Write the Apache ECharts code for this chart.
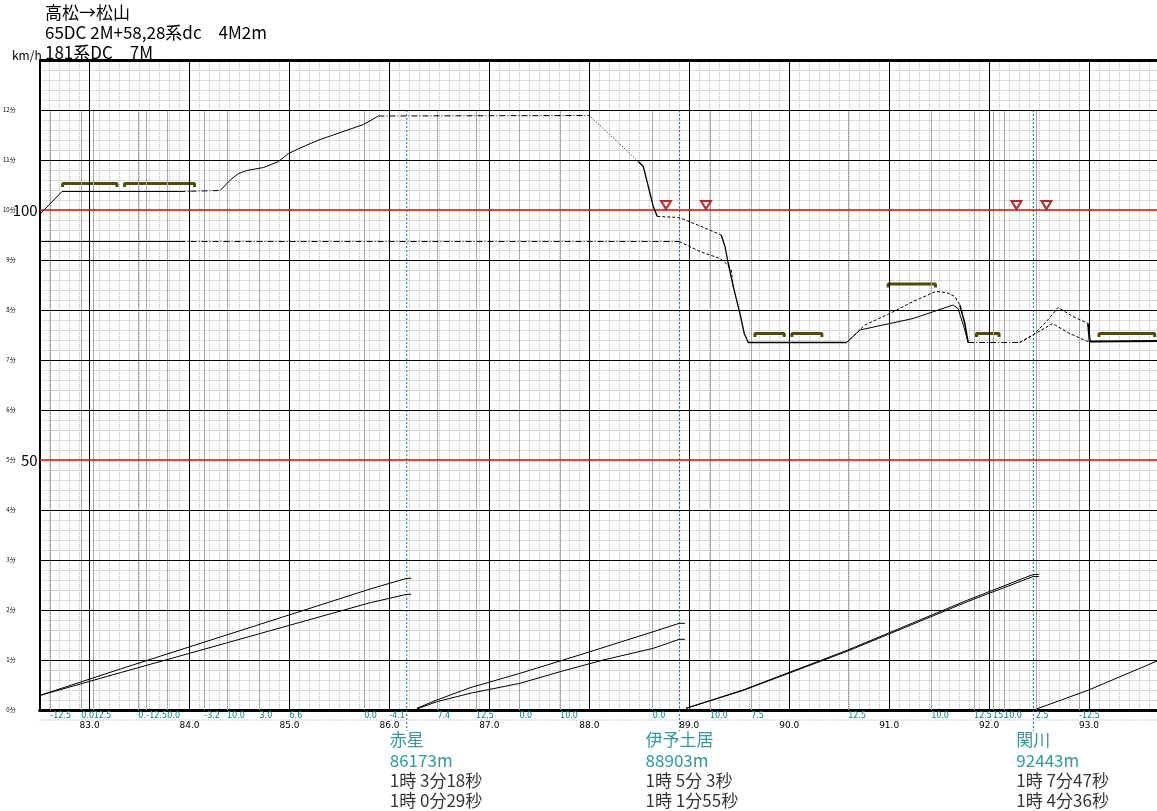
<!DOCTYPE html>
<html><head><meta charset="utf-8">
<script src="https://cdn.jsdelivr.net/npm/echarts@6/dist/echarts.min.js"></script>
<style>html,body{margin:0;padding:0;background:#fff}#c{width:1157px;height:811px}</style>
</head><body><div id="c"></div>
<script>
// ---------- data ----------
const kmTicks = [83, 84, 85, 86, 87, 88, 89, 90, 91, 92, 93];
const speedTicks = [10, 20, 30, 40, 50, 60, 70, 80, 90, 100, 110, 120];
const gradKm = [82.607, 82.917, 83.04, 83.487, 83.567, 83.777, 84.147, 84.374, 84.70, 85.00, 85.747, 86.00, 86.48, 86.867, 87.30, 87.707, 88.634, 89.207, 89.62, 90.59, 91.42, 91.85, 92.04, 92.15, 92.467, 92.90];
const gradText = ["-12.5", "0.0", "12.5", "0.", "-12.5", "0.0", "-3.2", "10.0", "3.0", "6.6", "0.0", "-4.1", "7.4", "12.5", "0.0", "10.0", "0.0", "10.0", "7.5", "12.5", "10.0", "12.5", "15.", "10.0", "2.5", "-12.5"];

const stationNames = ["赤星", "伊予土居", "関川"];
const stationKm = [86.173, 88.903, 92.443];
const stationDist = ["86173m", "88903m", "92443m"];
const stationTimeA = ["1時 3分18秒", "1時 5分 3秒", "1時 7分47秒"];
const stationTimeB = ["1時 0分29秒", "1時 1分55秒", "1時 4分36秒"];

// speed curve of train A (km, km/h)
const speedA_start = [[82.51, 99.3], [82.724, 103.7], [83.9, 103.7]];
const speedA_coast1 = [[83.9, 103.7], [84.307, 103.9]];
const speedA_accel = [[84.307, 103.9], [84.407, 106], [84.49, 107.3], [84.574, 107.9], [84.74, 108.5], [84.89, 109.7], [84.99, 111.3], [85.074, 112.1], [85.174, 113], [85.307, 114.1], [85.74, 117.1], [85.89, 118.8]];
const speedA_cruise = [[85.89, 118.8], [88.0, 118.9]];
const speedA_brake1 = [[88.0, 118.9], [88.49, 109.7]];
const speedA_brake2 = [[88.49, 109.7], [88.54, 108.7], [88.59, 104.7], [88.64, 100.7], [88.68, 98.7]];
const speedA_mid = [[88.68, 98.7], [88.9, 98.5], [89.107, 96.8], [89.32, 95]];
const speedA_brake3 = [[89.32, 95], [89.357, 92.7], [89.39, 89.3], [89.44, 84.7], [89.507, 79.3], [89.55, 75.3], [89.59, 73.5], [90.574, 73.5]];
const speedA_hill = [[90.574, 73.5], [90.757, 77], [91.007, 79.3], [91.24, 81.7], [91.467, 83.7], [91.574, 83.5], [91.657, 82.7], [91.707, 81]];
const speedA_brake4 = [[91.707, 81], [91.757, 77.3], [91.79, 73.5]];
const speedA_flat = [[91.79, 73.5], [92.307, 73.5]];
const speedA_hill2 = [[92.307, 73.5], [92.44, 75], [92.574, 77.7], [92.69, 80.5], [92.84, 78.7], [92.99, 77.3]];
const speedA_end = [[92.99, 77.3], [93.007, 73.7], [93.68, 73.8]];

// speed curve of train B
const speedB_start = [[82.5, 93.7], [83.9, 93.7]];
const speedB_cruise = [[83.9, 93.7], [88.9, 93.7]];
const speedB_brake = [[88.9, 93.7], [89.107, 91.7], [89.307, 90.3], [89.37, 89.3], [89.42, 88], [89.44, 84.7]];
const speedB_hill = [[90.574, 73.5], [90.707, 76], [91.007, 77.3], [91.24, 78.3], [91.64, 81], [91.69, 80.3], [91.714, 78.7], [91.757, 76], [91.79, 73.5]];
const speedB_hill2 = [[92.307, 73.5], [92.457, 75.2], [92.634, 77.3], [92.807, 75.3], [92.974, 73.8], [93.007, 73.7]];

// speed limits
const limitStart = [82.73, 83.35, 89.657, 90.027, 90.99, 91.874, 93.10];
const limitEnd = [83.274, 84.05, 89.95, 90.327, 91.464, 92.10, 93.657];
const limitSpeed = [105.3, 105.3, 75.3, 75.3, 85.2, 75.3, 75.3];

// signals
const signalKm = [88.767, 89.167, 92.274, 92.574];
const signalSpeed = [101, 101, 101, 101];

// running time curves (km, minutes)
const timeA1 = [[82.5, 0.29], [83.307, 0.82], [85.807, 2.42], [86.174, 2.634], [86.217, 2.634]];
const timeB1 = [[82.5, 0.29], [83.307, 0.746], [85.807, 2.146], [86.174, 2.314], [86.217, 2.314]];
const timeA2 = [[86.274, 0.034], [86.474, 0.2], [86.807, 0.446], [87.307, 0.734], [87.707, 0.98], [88.007, 1.166], [88.64, 1.566], [88.9, 1.734], [88.957, 1.734]];
const timeB2 = [[86.274, 0.02], [86.474, 0.166], [86.807, 0.334], [87.307, 0.534], [87.707, 0.766], [88.14, 1.0], [88.64, 1.234], [88.9, 1.414], [88.957, 1.414]];
const timeA3 = [[88.967, 0.034], [89.537, 0.4], [90.587, 1.2], [91.787, 2.2], [92.44, 2.71], [92.497, 2.71]];
const timeB3 = [[88.967, 0.034], [89.537, 0.39], [90.587, 1.18], [91.787, 2.17], [92.44, 2.67], [92.497, 2.67]];
const timeA4 = [[92.474, 0.02], [92.997, 0.4], [93.68, 0.98]];

// ---------- chart ----------
const X_MIN = 82.5, X_MAX = 93.68;
const SOLID = 'solid', DASHDOT = [6, 2, 1, 2], DOT = [1, 2], DASH = [3, 2];
const FONT = '"Noto Sans CJK JP", "Noto Sans", sans-serif';

function lineSer(data, type, width, color, extra) {
  return Object.assign({
    type: 'line', data: data, symbol: 'none', silent: true, animation: false,
    lineStyle: { color: color || '#000', width: width || 1, type: type }, z: 5
  }, extra || {});
}

const series = [];
// grid decoration lines
series.push({
  type: 'line', data: [], silent: true, animation: false, z: 2,
  markLine: {
    symbol: 'none', silent: true, animation: false,
    data: gradKm.map(k => [{ coord: [k, 120], lineStyle: { color: '#a8a8a8', width: 1, type: 'solid' } }, { coord: [k, 0] }])
      .concat(kmTicks.map(k => ({ xAxis: k, lineStyle: { color: '#000', width: 1, type: 'solid' } })))
      .concat(speedTicks.filter(v => v !== 100 && v !== 50).map(v => ({ yAxis: v, lineStyle: { color: '#000', width: 1, type: 'solid' } })))
      .concat([
        { yAxis: 130, lineStyle: { color: '#000', width: 3, type: 'solid' } },
        { yAxis: 100, lineStyle: { color: '#ff0000', width: 1.5, type: 'solid' }, label: { show: true, position: 'start', formatter: '100', distance: 2, fontSize: 15, color: '#000', fontFamily: FONT } },
        { yAxis: 50, lineStyle: { color: '#ff0000', width: 1.5, type: 'solid' }, label: { show: true, position: 'start', formatter: '50', distance: 2, fontSize: 15, color: '#000', fontFamily: FONT } }
      ]),
    label: { show: false }
  }
});
// station lines
stationKm.forEach(k => series.push(lineSer([[k, 120], [k, -4.2]], [2, 2], 1, '#008080', { clip: false, z: 3 })));
// dotted label separator
series.push(lineSer([[X_MIN, -2], [X_MAX, -2]], [1, 2], 1, '#999', { clip: false, z: 3 }));

// speed limits
limitStart.forEach((s, i) => {
  const v = limitSpeed[i], e = limitEnd[i];
  series.push(lineSer([[s, v - 0.7], [s, v], [e, v], [e, v - 0.7]], SOLID, 3, '#4d4d08', { z: 4 }));
});

// speed curves
[[speedA_start, SOLID, 1], [speedA_coast1, DASHDOT, 1], [speedA_accel, SOLID, 1], [speedA_cruise, DASHDOT, 1],
 [speedA_brake1, DOT, 1], [speedA_brake2, SOLID, 1.3], [speedA_mid, DASH, 1], [speedA_brake3, SOLID, 1.3],
 [speedA_hill, DASH, 1], [speedA_brake4, SOLID, 1.5], [speedA_flat, DASHDOT, 1], [speedA_hill2, DASH, 1], [speedA_end, SOLID, 2],
 [speedB_start, SOLID, 1], [speedB_cruise, DASHDOT, 1], [speedB_brake, DASH, 1], [speedB_hill, SOLID, 1], [speedB_hill2, DASH, 1]
].forEach(d => series.push(lineSer(d[0], d[1], d[2], '#000')));

// time curves
const toAxis = arr => arr.map(p => [p[0], p[1] * 10]);
[timeA1, timeB1, timeA2, timeB2, timeA3, timeB3, timeA4].forEach(t => series.push(lineSer(toAxis(t), SOLID, 1, '#000')));

// signals
series.push({
  type: 'scatter', silent: true, animation: false, z: 6,
  data: signalKm.map((k, i) => [k, signalSpeed[i]]),
  symbol: 'triangle', symbolRotate: 180, symbolSize: [10, 8],
  itemStyle: { color: '#fff', borderColor: '#a00000', borderWidth: 2 }
});

// station labels
series.push({
  type: 'scatter', silent: true, animation: false, clip: false, symbolSize: 0,
  data: stationKm.map((k, i) => ({ value: [k, 0], name: stationNames[i] })),
  label: { show: true, position: [0, 21], align: 'center', verticalAlign: 'top', formatter: p => p.name, fontSize: 17, color: '#008080', fontFamily: FONT }
});
series.push({
  type: 'scatter', silent: true, animation: false, clip: false, symbolSize: 0,
  data: stationKm.map((k, i) => ({
    value: [k, 0], name: stationNames[i],
    label: { position: [-stationNames[i].length * 17 / 2, 41] }
  })),
  label: {
    show: true, align: 'left', verticalAlign: 'top', fontFamily: FONT,
    formatter: p => { const i = p.dataIndex; return '{d|' + stationDist[i] + '}\n{t|' + stationTimeA[i] + '}\n{t|' + stationTimeB[i] + '}'; },
    rich: {
      d: { fontSize: 17, color: '#008080', lineHeight: 20, fontFamily: FONT },
      t: { fontSize: 17, color: '#000', lineHeight: 20, fontFamily: FONT }
    }
  }
});

const option = {
  animation: false,
  backgroundColor: '#fff',
  textStyle: { fontFamily: FONT },
  title: [
    { text: '高松→松山\n65DC 2M+58,28系dc　4M2m\n181系DC　7M', left: 45, top: 3, padding: 0,
      textStyle: { fontSize: 17, fontWeight: 'normal', color: '#000', lineHeight: 20, fontFamily: FONT } },
    { text: 'km/h', left: 12, top: 49, padding: 0, textStyle: { fontSize: 12, fontWeight: 'normal', color: '#000', fontFamily: FONT } }
  ],
  grid: { left: 39, right: 0, top: 60, bottom: 101, containLabel: false },
  xAxis: [
    { type: 'value', min: X_MIN, max: X_MAX, interval: 0.1, axisLine: { show: false }, axisTick: { show: false }, axisLabel: { show: false },
      splitLine: { show: true, lineStyle: { color: '#bcbcbc', type: [1, 1], width: 1 } } },
    { type: 'value', min: X_MIN, max: X_MAX, position: 'bottom', axisLine: { show: true, onZero: false, lineStyle: { color: '#000', width: 3 } },
      axisTick: { show: false }, splitLine: { show: false },
      axisLabel: { show: true, customValues: kmTicks, formatter: v => v.toFixed(1), fontSize: 9, margin: 11, color: '#000', fontFamily: 'DejaVu Sans' } },
    { type: 'value', min: X_MIN, max: X_MAX, position: 'bottom', axisLine: { show: false, onZero: false }, axisTick: { show: false }, splitLine: { show: false },
      axisLabel: { show: true, customValues: gradKm, align: 'left', fontSize: 8, margin: 2, color: '#008080', fontFamily: 'DejaVu Sans',
        formatter: v => { let i = 0, best = 1e9; gradKm.forEach((k, j) => { const d = Math.abs(k - v); if (d < best) { best = d; i = j; } }); return gradText[i]; } } }
  ],
  yAxis: [
    { type: 'value', min: 0, max: 130, interval: 2, axisLine: { show: true, onZero: false, lineStyle: { color: '#000', width: 2 } }, axisTick: { show: false }, axisLabel: { show: false },
      splitLine: { show: true, lineStyle: { color: '#bcbcbc', type: [1, 1], width: 1 } } },
    { type: 'value', min: 0, max: 130, interval: 10, position: 'left', axisLine: { show: false }, axisTick: { show: false },
      axisLabel: { show: true, fontSize: 6, margin: 24, color: '#000', formatter: v => v <= 120 ? (v / 10) + '分' : '' },
      splitLine: { show: false } }
  ],
  series: series
};
const chart = echarts.init(document.getElementById('c'), null, { renderer: 'canvas' });
chart.setOption(option);
</script>
</body></html>
